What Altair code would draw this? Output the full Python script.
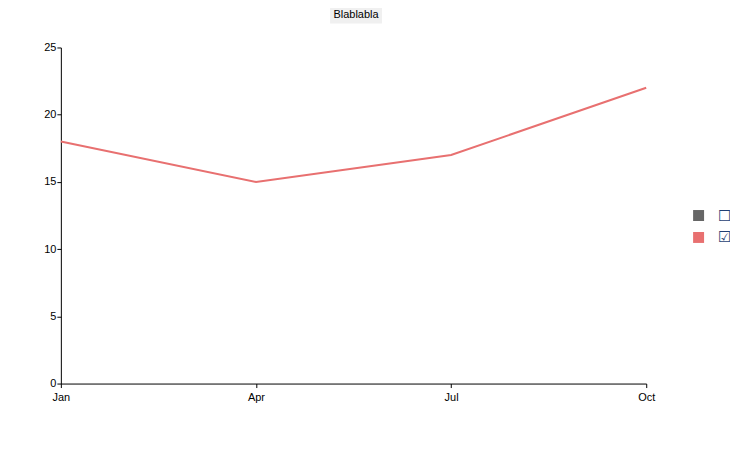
import altair as alt
import pandas as pd

chart_title = ["Blablabla"]
months = ["Jan", "Apr", "Jul", "Oct"]
series_b = [18, 15, 17, 22]
series_names = ["Series 1", "Series 2"]
series_colors = ["#666666", "#e87070"]
y_ticks = [0, 5, 10, 15, 20, 25]

df = pd.DataFrame({"month": months, "value": series_b, "series": [series_names[1]] * len(months)})
title_df = pd.DataFrame({"label": chart_title})

title_box = alt.Chart(title_df).mark_rect(color="#f0f0f0").encode(
    x=alt.value(270), x2=alt.value(322), y=alt.value(-43), y2=alt.value(-24)
)
title_text = alt.Chart(title_df).mark_text(
    fontSize=11, font="Liberation Sans", color="black", align="center", baseline="middle"
).encode(text="label:N", x=alt.value(296), y=alt.value(-33))

line = alt.Chart(df).mark_line(strokeWidth=2).encode(
    x=alt.X("month:O", sort=months, title=None,
            scale=alt.Scale(type="point", padding=0),
            axis=alt.Axis(labelAngle=0, domainColor="black", tickColor="black", tickSize=4,
                          labelColor="black", labelFontSize=11, labelFont="Liberation Sans", labelPadding=4)),
    y=alt.Y("value:Q", title=None, scale=alt.Scale(domain=[0, 25], nice=False),
            axis=alt.Axis(values=y_ticks, grid=False, domainColor="black", tickColor="black", tickSize=4,
                          labelColor="black", labelFontSize=11, labelFont="Liberation Sans", labelPadding=1)),
    color=alt.Color("series:N", scale=alt.Scale(domain=series_names, range=series_colors),
                    legend=alt.Legend(title=None, orient="none", legendX=632, legendY=161,
                                      symbolType="square", symbolSize=25, symbolStrokeWidth=6,
                                      symbolOpacity=1,
                                      labelExpr="datum.label == 'Series 1' ? '☐' : '☑'",
                                      labelFontSize=15, labelOffset=12, labelColor="#1f3f73",
                                      labelFont="DejaVu Sans", rowPadding=-7)),
)

chart = alt.layer(title_box, title_text, line).properties(
    width=587, height=337,
    padding={"left": 53, "top": 39, "right": 84, "bottom": 50},
    autosize=alt.AutoSizeParams(type="none"),
).configure_view(stroke=None)

chart.save("out.html", embed_options={"renderer": "svg", "actions": False})
